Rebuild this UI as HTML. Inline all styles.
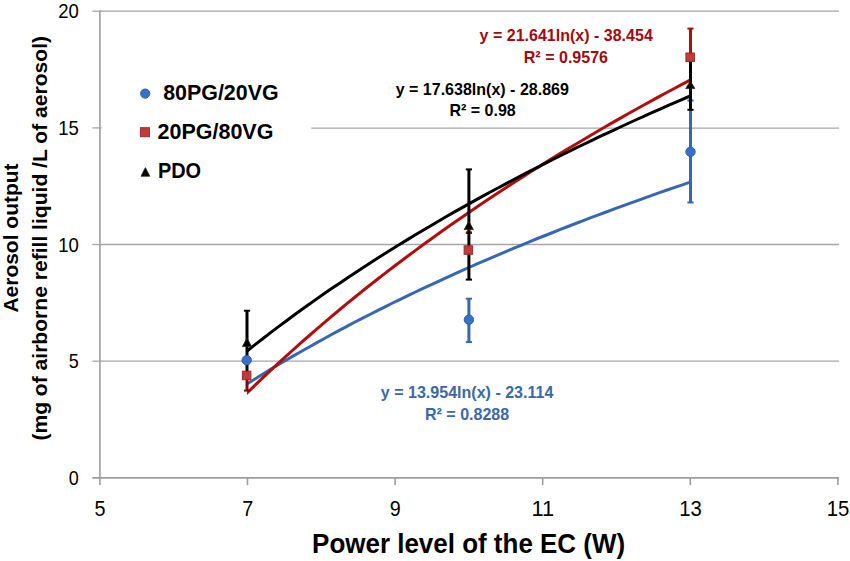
<!DOCTYPE html>
<html lang="en"><head><meta charset="utf-8"><title>Aerosol output vs power level of the EC</title>
<style>html,body{margin:0;padding:0;background:#fff}svg{display:block}text{font-family:"Liberation Sans",sans-serif}.b{font-weight:bold}</style></head><body>
<svg width="850" height="561" viewBox="0 0 850 561">
<rect width="850" height="561" fill="#fff"/>
<g stroke="#a6a6a6" stroke-width="1.3" fill="none">
<line x1="99.9" y1="361.2" x2="838.9" y2="361.2"/>
<line x1="99.9" y1="244.5" x2="838.9" y2="244.5"/>
<line x1="99.9" y1="11.2" x2="838.9" y2="11.2"/>
<line x1="311.4" y1="128.1" x2="838.9" y2="128.1"/>
</g>
<g stroke="#9e9e9e" stroke-width="1.6" fill="none">
<line x1="99.9" y1="10.5" x2="99.9" y2="478.9"/>
<line x1="92.3" y1="477.9" x2="838.9" y2="477.9"/>
<line x1="99.9" y1="477.9" x2="99.9" y2="485.1"/>
<line x1="247.5" y1="477.9" x2="247.5" y2="485.1"/>
<line x1="395.1" y1="477.9" x2="395.1" y2="485.1"/>
<line x1="542.7" y1="477.9" x2="542.7" y2="485.1"/>
<line x1="690.3" y1="477.9" x2="690.3" y2="485.1"/>
<line x1="837.9" y1="477.9" x2="837.9" y2="485.1"/>
</g>
<g stroke="#a6a6a6" stroke-width="1.3" fill="none">
<line x1="92.3" y1="361.2" x2="101.6" y2="361.2"/>
<line x1="92.3" y1="244.5" x2="101.6" y2="244.5"/>
<line x1="92.3" y1="127.9" x2="101.6" y2="127.9"/>
<line x1="92.3" y1="11.2" x2="101.6" y2="11.2"/>
</g>
<defs><clipPath id="tc"><rect x="247.0" y="0" width="444.6" height="561"/></clipPath></defs>
<g clip-path="url(#tc)">
<polyline points="240.1,388.3 247.7,383.5 255.4,378.7 263.0,374.0 270.6,369.4 278.2,364.8 285.9,360.3 293.5,355.9 301.1,351.5 308.8,347.2 316.4,342.9 324.0,338.7 331.6,334.5 339.3,330.4 346.9,326.4 354.5,322.3 362.1,318.4 369.8,314.5 377.4,310.6 385.0,306.8 392.6,303.0 400.3,299.3 407.9,295.6 415.5,292.0 423.1,288.3 430.8,284.8 438.4,281.3 446.0,277.8 453.6,274.3 461.3,270.9 468.9,267.5 476.5,264.2 484.2,260.8 491.8,257.6 499.4,254.3 507.0,251.1 514.7,247.9 522.3,244.8 529.9,241.6 537.5,238.5 545.2,235.5 552.8,232.5 560.4,229.4 568.0,226.5 575.7,223.5 583.3,220.6 590.9,217.7 598.5,214.8 606.2,212.0 613.8,209.1 621.4,206.3 629.0,203.6 636.7,200.8 644.3,198.1 651.9,195.4 659.5,192.7 667.2,190.0 674.8,187.4 682.4,184.8 690.1,182.2 697.7,179.6" fill="none" stroke="#3668b2" stroke-width="3" stroke-linecap="butt" stroke-linejoin="round"/>
<polyline points="240.1,399.8 247.7,392.3 255.4,384.9 263.0,377.6 270.6,370.4 278.2,363.4 285.9,356.4 293.5,349.5 301.1,342.7 308.8,336.0 316.4,329.3 324.0,322.8 331.6,316.4 339.3,310.0 346.9,303.7 354.5,297.5 362.1,291.3 369.8,285.3 377.4,279.3 385.0,273.4 392.6,267.5 400.3,261.7 407.9,256.0 415.5,250.4 423.1,244.8 430.8,239.2 438.4,233.8 446.0,228.3 453.6,223.0 461.3,217.7 468.9,212.4 476.5,207.2 484.2,202.1 491.8,197.0 499.4,192.0 507.0,187.0 514.7,182.1 522.3,177.2 529.9,172.3 537.5,167.5 545.2,162.8 552.8,158.1 560.4,153.4 568.0,148.8 575.7,144.2 583.3,139.7 590.9,135.2 598.5,130.7 606.2,126.3 613.8,121.9 621.4,117.6 629.0,113.3 636.7,109.0 644.3,104.8 651.9,100.6 659.5,96.4 667.2,92.3 674.8,88.2 682.4,84.1 690.1,80.1 697.7,76.1" fill="none" stroke="#b10d0d" stroke-width="3" stroke-linecap="butt" stroke-linejoin="round"/>
<polyline points="240.1,356.6 247.7,350.5 255.4,344.4 263.0,338.5 270.6,332.6 278.2,326.9 285.9,321.2 293.5,315.5 301.1,310.0 308.8,304.5 316.4,299.1 324.0,293.8 331.6,288.6 339.3,283.4 346.9,278.2 354.5,273.2 362.1,268.2 369.8,263.2 377.4,258.3 385.0,253.5 392.6,248.7 400.3,244.0 407.9,239.4 415.5,234.8 423.1,230.2 430.8,225.7 438.4,221.2 446.0,216.8 453.6,212.4 461.3,208.1 468.9,203.9 476.5,199.6 484.2,195.4 491.8,191.3 499.4,187.2 507.0,183.1 514.7,179.1 522.3,175.1 529.9,171.2 537.5,167.3 545.2,163.4 552.8,159.5 560.4,155.7 568.0,152.0 575.7,148.2 583.3,144.5 590.9,140.9 598.5,137.2 606.2,133.6 613.8,130.1 621.4,126.5 629.0,123.0 636.7,119.5 644.3,116.1 651.9,112.7 659.5,109.3 667.2,105.9 674.8,102.6 682.4,99.3 690.1,96.0 697.7,92.7" fill="none" stroke="#000" stroke-width="3" stroke-linecap="butt" stroke-linejoin="round"/>
</g>
<g fill="none">
<line x1="468.9" y1="298.7" x2="468.9" y2="342.1" stroke="#3668b2" stroke-width="3"/>
<line x1="465.8" y1="298.7" x2="472.0" y2="298.7" stroke="#3668b2" stroke-width="2"/>
<line x1="465.8" y1="342.1" x2="472.0" y2="342.1" stroke="#3668b2" stroke-width="2"/>
<line x1="687.4" y1="100.5" x2="693.6" y2="100.5" stroke="#3668b2" stroke-width="2"/>
<line x1="690.5" y1="108.0" x2="690.5" y2="202.5" stroke="#3668b2" stroke-width="3"/>
<line x1="687.4" y1="202.5" x2="693.6" y2="202.5" stroke="#3668b2" stroke-width="2"/>
<line x1="247.0" y1="378.0" x2="247.0" y2="390.6" stroke="#8a0606" stroke-width="3"/>
<line x1="243.9" y1="390.6" x2="250.1" y2="390.6" stroke="#8a0606" stroke-width="2"/>
<line x1="465.8" y1="232.7" x2="472.0" y2="232.7" stroke="#8f0808" stroke-width="2.6"/>
<line x1="687.4" y1="28.6" x2="693.6" y2="28.6" stroke="#b10d0d" stroke-width="2"/>
<line x1="690.5" y1="28.6" x2="690.5" y2="60.0" stroke="#b10d0d" stroke-width="3"/>
<line x1="247.0" y1="310.7" x2="247.0" y2="375.0" stroke="#000" stroke-width="3"/>
<line x1="243.9" y1="310.7" x2="250.1" y2="310.7" stroke="#000" stroke-width="2"/>
<line x1="243.9" y1="375.0" x2="250.1" y2="375.0" stroke="#000" stroke-width="2"/>
<line x1="468.9" y1="169.4" x2="468.9" y2="279.6" stroke="#000" stroke-width="3"/>
<line x1="465.8" y1="169.4" x2="472.0" y2="169.4" stroke="#000" stroke-width="2"/>
<line x1="465.8" y1="279.6" x2="472.0" y2="279.6" stroke="#000" stroke-width="2"/>
<line x1="690.5" y1="58.8" x2="690.5" y2="109.8" stroke="#000" stroke-width="3"/>
<line x1="687.4" y1="58.8" x2="693.6" y2="58.8" stroke="#000" stroke-width="2"/>
<line x1="687.4" y1="109.8" x2="693.6" y2="109.8" stroke="#000" stroke-width="2"/>
</g>
<circle cx="246.7" cy="360.2" r="4.7" fill="#3771c6" stroke="#2e5ea6" stroke-width="1"/>
<circle cx="468.9" cy="319.7" r="4.7" fill="#3771c6" stroke="#2e5ea6" stroke-width="1"/>
<circle cx="690.5" cy="151.8" r="4.7" fill="#3771c6" stroke="#2e5ea6" stroke-width="1"/>
<rect x="242.4" y="371.2" width="8.5" height="8.5" fill="#c43a3a" stroke="#a02a2a" stroke-width="1"/>
<rect x="464.1" y="245.8" width="8.5" height="8.5" fill="#c43a3a" stroke="#a02a2a" stroke-width="1"/>
<rect x="685.9" y="53.0" width="8.5" height="8.5" fill="#c43a3a" stroke="#a02a2a" stroke-width="1"/>
<polygon points="247.0,338.0 251.6,346.6 242.4,346.6" fill="#000" stroke="#2a2a0a" stroke-width="0.8"/>
<polygon points="468.8,221.2 473.4,229.6 464.2,229.6" fill="#000" stroke="#2a2a0a" stroke-width="0.8"/>
<polygon points="690.3,81.0 694.9,88.6 685.7,88.6" fill="#000" stroke="#2a2a0a" stroke-width="0.8"/>
<circle cx="145.2" cy="93.6" r="4.6" fill="#3771c6" stroke="#2e5ea6" stroke-width="1"/>
<rect x="140.4" y="127.7" width="9.0" height="9.0" fill="#c43a3a" stroke="#a02a2a" stroke-width="1"/>
<polygon points="145.4,167.6 149.8,176.2 141.0,176.2" fill="#000" stroke="#2a2a0a" stroke-width="0.8"/>
<text x="94.6" y="516.0" font-size="22.0" fill="#000" text-anchor="start" textLength="11.0" lengthAdjust="spacingAndGlyphs">5</text>
<text x="242.2" y="516.0" font-size="22.0" fill="#000" text-anchor="start" textLength="11.0" lengthAdjust="spacingAndGlyphs">7</text>
<text x="389.8" y="516.0" font-size="22.0" fill="#000" text-anchor="start" textLength="11.0" lengthAdjust="spacingAndGlyphs">9</text>
<text x="531.6" y="516.0" font-size="22.0" fill="#000" text-anchor="start" textLength="22.6" lengthAdjust="spacingAndGlyphs">11</text>
<text x="679.2" y="516.0" font-size="22.0" fill="#000" text-anchor="start" textLength="22.6" lengthAdjust="spacingAndGlyphs">13</text>
<text x="826.8" y="516.0" font-size="22.0" fill="#000" text-anchor="start" textLength="22.6" lengthAdjust="spacingAndGlyphs">15</text>
<text x="68.8" y="484.9" font-size="19.8" fill="#000" text-anchor="start" textLength="10.0" lengthAdjust="spacingAndGlyphs">0</text>
<text x="68.8" y="368.2" font-size="19.8" fill="#000" text-anchor="start" textLength="10.0" lengthAdjust="spacingAndGlyphs">5</text>
<text x="58.2" y="251.5" font-size="19.8" fill="#000" text-anchor="start" textLength="20.6" lengthAdjust="spacingAndGlyphs">10</text>
<text x="58.2" y="134.9" font-size="19.8" fill="#000" text-anchor="start" textLength="20.6" lengthAdjust="spacingAndGlyphs">15</text>
<text x="58.2" y="18.2" font-size="19.8" fill="#000" text-anchor="start" textLength="20.6" lengthAdjust="spacingAndGlyphs">20</text>
<text x="312.1" y="553.0" font-size="27.3" class="b" fill="#000" text-anchor="start" textLength="313.0" lengthAdjust="spacingAndGlyphs">Power level of the EC (W)</text>
<g transform="translate(17.9 312.6) rotate(-90)">
<text x="0.0" y="0.0" font-size="21.0" class="b" fill="#000" text-anchor="start" textLength="149.2" lengthAdjust="spacingAndGlyphs">Aerosol output</text>
</g>
<g transform="translate(47.2 440.6) rotate(-90)">
<text x="0.0" y="0.0" font-size="21.0" class="b" fill="#000" text-anchor="start" textLength="404.6" lengthAdjust="spacingAndGlyphs">(mg of airborne refill liquid /L of aerosol)</text>
</g>
<text x="163.2" y="100.0" font-size="21.3" class="b" fill="#000" text-anchor="start" textLength="115.4" lengthAdjust="spacingAndGlyphs">80PG/20VG</text>
<text x="157.6" y="139.0" font-size="21.3" class="b" fill="#000" text-anchor="start" textLength="115.8" lengthAdjust="spacingAndGlyphs">20PG/80VG</text>
<text x="157.9" y="178.1" font-size="21.3" class="b" fill="#000" text-anchor="start" textLength="43.2" lengthAdjust="spacingAndGlyphs">PDO</text>
<text x="479.6" y="41.2" font-size="16.3" class="b" fill="#a00a10" text-anchor="start" textLength="173.2" lengthAdjust="spacingAndGlyphs">y = 21.641ln(x) - 38.454</text>
<text x="523.8" y="62.8" font-size="16.3" class="b" fill="#a00a10" text-anchor="start" textLength="84.2" lengthAdjust="spacingAndGlyphs">R² = 0.9576</text>
<text x="395.7" y="95.0" font-size="16.3" class="b" fill="#000" text-anchor="start" textLength="173.2" lengthAdjust="spacingAndGlyphs">y = 17.638ln(x) - 28.869</text>
<text x="449.4" y="116.3" font-size="16.3" class="b" fill="#000" text-anchor="start" textLength="66.4" lengthAdjust="spacingAndGlyphs">R² = 0.98</text>
<text x="380.8" y="398.1" font-size="16.3" class="b" fill="#3b68a6" text-anchor="start" textLength="172.6" lengthAdjust="spacingAndGlyphs">y = 13.954ln(x) - 23.114</text>
<text x="425.0" y="419.6" font-size="16.3" class="b" fill="#3b68a6" text-anchor="start" textLength="84.2" lengthAdjust="spacingAndGlyphs">R² = 0.8288</text>
</svg></body></html>
